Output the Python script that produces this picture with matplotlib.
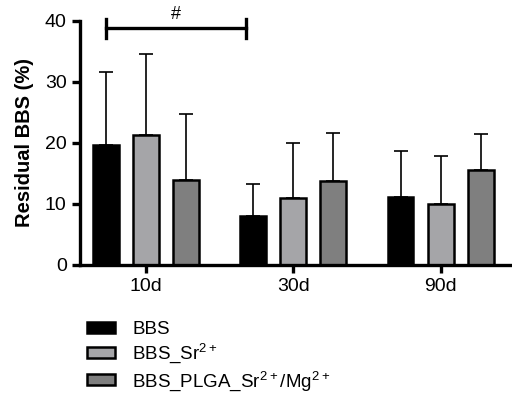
import numpy as np
import matplotlib
matplotlib.use("Agg")
import matplotlib.pyplot as plt
from matplotlib.patches import Patch

plt.rcParams["font.family"] = ["Liberation Sans", "DejaVu Sans"]
plt.rcParams["mathtext.default"] = "regular"

# Data
groups = ["10d", "30d", "90d"]
series = ["BBS", r"BBS_Sr$^{2+}$", r"BBS_PLGA_Sr$^{2+}$/Mg$^{2+}$"]
means = {
    "BBS": [19.7, 8.1, 11.2],
    "Sr": [21.3, 10.9, 10.0],
    "PLGA": [13.9, 13.8, 15.5],
}
err_top = {
    "BBS": [31.7, 13.2, 18.7],
    "Sr": [34.6, 20.0, 17.9],
    "PLGA": [24.8, 21.6, 21.4],
}
colors = ["#000000", "#a5a5a8", "#7f7f7f"]

fig = plt.figure(figsize=(5.12, 3.96), dpi=100)
ax = fig.add_axes([0.156, 0.331, 0.84, 0.616])

x = np.arange(len(groups))
offsets = [-0.272, 0, 0.272]
width = 0.175
for key, off, col in zip(["BBS", "Sr", "PLGA"], offsets, colors):
    m = np.array(means[key])
    e = np.array(err_top[key]) - m
    ax.bar(x + off, m, width, color=col, edgecolor="black", linewidth=1.8, zorder=2)
    ax.errorbar(x + off, m, yerr=[np.zeros_like(e), e], fmt="none",
                ecolor="black", elinewidth=1.2, capsize=5, capthick=1.2, zorder=1)

# significance bracket between 10d BBS and 30d BBS
x1, x2 = x[0] + offsets[0], x[1] + offsets[0] - 0.05
yb = 38.8
ax.plot([x1, x2], [yb, yb], color="black", lw=2.4, clip_on=False)
ax.plot([x1, x1], [yb - 1.6, yb + 1.6], color="black", lw=2.4, clip_on=False)
ax.plot([x2, x2], [yb - 1.6, yb + 1.6], color="black", lw=2.4, clip_on=False)
ax.text((x1 + x2) / 2, yb + 0.9, "#", ha="center", va="bottom", fontsize=13, clip_on=False)

ax.set_ylim(0, 40)
ax.set_xlim(-0.447, 2.47)
ax.set_yticks([0, 10, 20, 30, 40])
ax.set_xticks(x)
ax.set_xticklabels(groups)
ax.set_ylabel("Residual BBS (%)", fontsize=14.5, fontweight="bold", labelpad=8)
for s in ["top", "right"]:
    ax.spines[s].set_visible(False)
for s in ["left", "bottom"]:
    ax.spines[s].set_linewidth(2.4)
ax.tick_params(axis="both", width=2.4, length=6, labelsize=14)

handles = [Patch(facecolor=c, edgecolor="black", linewidth=1.8) for c in colors]
fig.legend(handles, series, loc="upper left", bbox_to_anchor=(0.145, 0.222),
           frameon=False, fontsize=13.5, handlelength=1.5, handleheight=0.55,
           handletextpad=0.9, labelspacing=0.2, borderpad=0.2)

fig.savefig("out.png", dpi=100)
